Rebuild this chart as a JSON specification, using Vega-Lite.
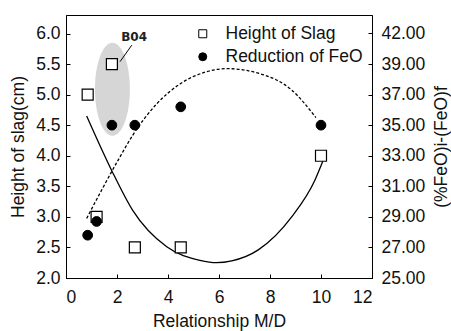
{
  "$schema": "https://vega.github.io/schema/vega-lite/v6.json",
  "width": 306,
  "height": 263,
  "autosize": {"type": "none"},
  "padding": {"left": 66, "top": 15, "right": 79, "bottom": 53},
  "background": "white",
  "config": {
    "view": {"stroke": "black", "strokeWidth": 1},
    "font": "Liberation Sans",
    "axis": {
      "grid": false,
      "domainColor": "black",
      "tickColor": "black",
      "labelColor": "#111",
      "titleColor": "#111",
      "labelFont": "Liberation Sans",
      "titleFont": "Liberation Sans",
      "labelFontSize": 17.5,
      "titleFontSize": 17.5,
      "titleFontWeight": "normal",
      "tickSize": -4,
      "domainWidth": 1,
      "tickWidth": 1
    },
    "legend": {
      "labelFont": "Liberation Sans",
      "labelFontSize": 17.5,
      "labelColor": "#111",
      "symbolSize": 64,
      "symbolStrokeWidth": 1,
      "labelOffset": 14,
      "rowPadding": 4
    }
  },
  "datasets": {
    "slag": [
      {"x": 0.85, "y": 5.0, "series": "Height of Slag"},
      {"x": 1.2, "y": 3.0, "series": "Height of Slag"},
      {"x": 1.8, "y": 5.5, "series": "Height of Slag"},
      {"x": 2.7, "y": 2.5, "series": "Height of Slag"},
      {"x": 4.5, "y": 2.5, "series": "Height of Slag"},
      {"x": 10, "y": 4.0, "series": "Height of Slag"}
    ],
    "feo": [
      {"x": 0.85, "y": 27.8, "series": "Reduction of FeO"},
      {"x": 1.2, "y": 28.7, "series": "Reduction of FeO"},
      {"x": 1.8, "y": 35.0, "series": "Reduction of FeO"},
      {"x": 2.7, "y": 35.0, "series": "Reduction of FeO"},
      {"x": 4.5, "y": 36.2, "series": "Reduction of FeO"},
      {"x": 10, "y": 35.0, "series": "Reduction of FeO"}
    ],
    "slagfit": [
      {"x": 0.81, "y": 4.65},
      {"x": 1.79, "y": 3.76},
      {"x": 2.61, "y": 3.11},
      {"x": 3.95, "y": 2.51},
      {"x": 5.25, "y": 2.29},
      {"x": 5.9, "y": 2.25},
      {"x": 6.5, "y": 2.28},
      {"x": 7.54, "y": 2.46},
      {"x": 8.85, "y": 3.0},
      {"x": 9.76, "y": 3.6},
      {"x": 10.09, "y": 3.93}
    ],
    "feofit": [
      {"x": 0.81, "y": 28.9},
      {"x": 2.04, "y": 32.7},
      {"x": 2.64, "y": 34.4},
      {"x": 3.56, "y": 36.4},
      {"x": 4.47, "y": 37.7},
      {"x": 5.52, "y": 38.5},
      {"x": 6.3, "y": 38.7},
      {"x": 7.54, "y": 38.4},
      {"x": 8.85, "y": 37.3},
      {"x": 9.8, "y": 35.5}
    ],
    "ellipse": [{"x": 1.82, "y": 5.09}],
    "label": [{"x": 2.67, "y": 5.94, "label": "B04"}],
    "leader": [{"x": 2.12, "y": 5.54, "x2": 2.58, "y2": 5.81}]
  },
  "encoding": {
    "x": {
      "field": "x",
      "type": "quantitative",
      "scale": {"domain": [0, 12], "nice": false, "zero": false},
      "axis": {
        "values": [0, 2, 4, 6, 8, 10, 12],
        "format": "d",
        "title": "Relationship M/D",
        "labelPadding": 14,
        "titlePadding": 7
      }
    }
  },
  "layer": [
    {
      "encoding": {
        "y": {
          "field": "y",
          "type": "quantitative",
          "scale": {"domain": [2, 6.303], "nice": false, "zero": false},
          "axis": {
            "orient": "left",
            "values": [2, 2.5, 3, 3.5, 4, 4.5, 5, 5.5, 6],
            "format": ".1f",
            "title": "Height of slag(cm)",
            "labelPadding": 10,
            "titlePadding": 8
          }
        }
      },
      "layer": [
        {
          "data": {"name": "ellipse"},
          "mark": {
            "type": "point",
            "shape": "M0,-1A0.376,1,0,1,1,0,1A0.376,1,0,1,1,0,-1Z",
            "filled": true,
            "fill": "#d6d6d6",
            "strokeWidth": 0,
            "size": 8649,
            "opacity": 1
          }
        },
        {
          "data": {"name": "slagfit"},
          "mark": {"type": "line", "color": "black", "strokeWidth": 1.3, "interpolate": "monotone"}
        },
        {
          "data": {"name": "slag"},
          "mark": {"type": "point", "filled": true, "strokeWidth": 1.2, "size": 121, "opacity": 1},
          "encoding": {
            "shape": {
              "field": "series",
              "type": "nominal",
              "scale": {"domain": ["Height of Slag", "Reduction of FeO"], "range": ["square", "circle"]},
              "legend": {"title": null, "orient": "none", "legendX": 128, "legendY": 10}
            },
            "fill": {
              "field": "series",
              "type": "nominal",
              "scale": {"domain": ["Height of Slag", "Reduction of FeO"], "range": ["white", "black"]},
              "legend": {"title": null, "orient": "none", "legendX": 128, "legendY": 10}
            },
            "stroke": {
              "field": "series",
              "type": "nominal",
              "scale": {"domain": ["Height of Slag", "Reduction of FeO"], "range": ["black", "black"]},
              "legend": {"title": null, "orient": "none", "legendX": 128, "legendY": 10}
            }
          }
        },
        {
          "data": {"name": "leader"},
          "mark": {"type": "rule", "color": "black", "strokeWidth": 1},
          "encoding": {"x2": {"field": "x2"}, "y2": {"field": "y2"}}
        },
        {
          "data": {"name": "label"},
          "mark": {"type": "text", "font": "DejaVu Sans", "fontWeight": "bold", "fontSize": 12, "color": "#222"},
          "encoding": {"text": {"field": "label"}}
        }
      ]
    },
    {
      "encoding": {
        "y": {
          "field": "y",
          "type": "quantitative",
          "scale": {"domain": [25, 42.21], "nice": false, "zero": false},
          "axis": {
            "orient": "right",
            "values": [25, 27, 29, 31, 33, 35, 37, 39, 41],
            "labelExpr": "datum.value == 41 ? '42.00' : format(datum.value, '.2f')",
            "title": "(%FeO)i-(FeO)f",
            "titleAngle": -90,
            "labelPadding": 13,
            "titlePadding": 26
          }
        }
      },
      "layer": [
        {
          "data": {"name": "feofit"},
          "mark": {"type": "line", "color": "black", "strokeWidth": 1.3, "strokeDash": [3, 2], "interpolate": "monotone"}
        },
        {
          "data": {"name": "feo"},
          "mark": {"type": "point", "filled": true, "strokeWidth": 1, "size": 95, "opacity": 1},
          "encoding": {
            "shape": {"field": "series", "type": "nominal"},
            "fill": {"field": "series", "type": "nominal"},
            "stroke": {"field": "series", "type": "nominal"}
          }
        }
      ]
    }
  ],
  "resolve": {"scale": {"y": "independent"}}
}
